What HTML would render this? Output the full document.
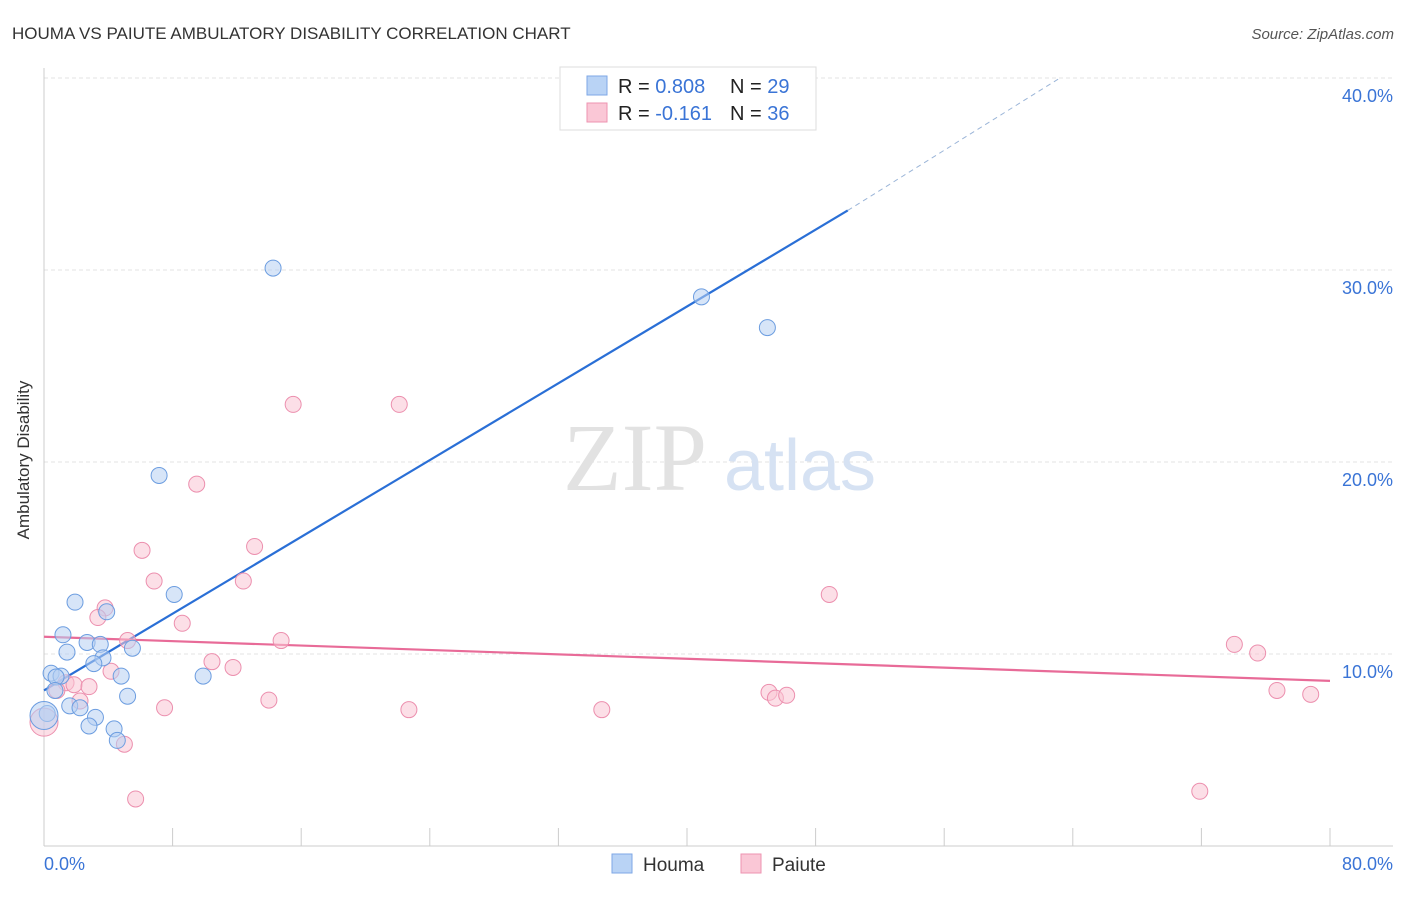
<!DOCTYPE html>
<html><head><meta charset="utf-8"><style>
body{margin:0;background:#fff;font-family:"Liberation Sans",sans-serif}
svg text{font-family:"Liberation Sans",sans-serif}
</style></head><body>
<svg id="chart" width="1406" height="892" xmlns="http://www.w3.org/2000/svg">
<text x="12" y="39" font-size="17" fill="#333">HOUMA VS PAIUTE AMBULATORY DISABILITY CORRELATION CHART</text>
<text x="1394" y="39" font-size="15" fill="#555" font-style="italic" text-anchor="end">Source: ZipAtlas.com</text>
<g id="grid"></g>
<g><text x="635" y="490" font-size="96" fill="#e2e2e2" font-family="Liberation Serif" text-anchor="middle" style="font-family:'Liberation Serif',serif">ZIP</text><text x="800" y="490" font-size="72" fill="#d6e2f3" text-anchor="middle">atlas</text></g>
<g id="lines"></g>
<g id="points"></g>
<text x="24" y="455" font-size="17" fill="#333" transform="rotate(-90 29 455)" text-anchor="middle">Ambulatory Disability</text>
<text x="44" y="870" font-size="18" fill="#3a74d6">0.0%</text>
<text x="1393" y="870" font-size="18" fill="#3a74d6" text-anchor="end">80.0%</text>
<g>
<rect x="560" y="67" width="256" height="63" fill="#fff" stroke="#ddd"/>
<rect x="587" y="76" width="20" height="19" fill="#b9d3f5" stroke="#7ea7e6"/>
<rect x="587" y="103" width="20" height="19" fill="#fac7d6" stroke="#ee93b0"/>
<text x="618" y="93" font-size="20" fill="#222">R = <tspan fill="#3a74d6">0.808</tspan><tspan x="730">N = </tspan><tspan fill="#3a74d6">29</tspan></text>
<text x="618" y="120" font-size="20" fill="#222">R = <tspan fill="#3a74d6">-0.161</tspan><tspan x="730">N = </tspan><tspan fill="#3a74d6">36</tspan></text>
</g>
<g>
<rect x="612" y="854" width="20" height="19" fill="#b9d3f5" stroke="#7ea7e6"/>
<text x="643" y="871" font-size="19" fill="#333">Houma</text>
<rect x="741" y="854" width="20" height="19" fill="#fac7d6" stroke="#ee93b0"/>
<text x="772" y="871" font-size="19" fill="#333">Paiute</text>
</g>
</svg>
<script>
const yTicks=[10,20,30,40];
const yTickLabels=["10.0%","20.0%","30.0%","40.0%"];
const xTicks=[0,8,16,24,32,40,48,56,64,72,80];
const houmaX=[14.25,40.9,45.0,7.16,8.1,1.93,3.9,1.18,2.68,3.5,5.5,1.43,3.67,3.1,0.44,1.06,0.75,4.8,9.9,0.68,5.2,1.6,2.24,3.2,0.2,2.8,4.36,4.56,0];
const houmaY=[30.1,28.6,27.0,19.3,13.1,12.7,12.2,11.0,10.6,10.5,10.3,10.1,9.8,9.5,9.0,8.85,8.8,8.85,8.85,8.1,7.8,7.3,7.2,6.7,6.9,6.25,6.1,5.5,6.8];
const paiuteX=[15.5,22.1,9.5,6.1,13.1,6.85,12.4,48.85,3.8,3.35,8.6,5.2,14.75,74.05,75.5,10.45,11.76,4.17,1.37,1.87,2.8,0.8,2.24,45.1,45.5,46.2,76.7,78.8,13.99,7.5,22.7,34.7,5.0,5.7,71.9,0];
const paiuteY=[23.0,23.0,18.85,15.4,15.6,13.8,13.8,13.1,12.4,11.9,11.6,10.7,10.7,10.5,10.05,9.6,9.3,9.1,8.5,8.4,8.3,8.1,7.55,8.0,7.7,7.85,8.1,7.9,7.6,7.2,7.1,7.1,5.3,2.45,2.85,6.45];
const houmaTrend=[[0,8.1],[50,33.1]];
const houmaTrendExt=[[50,33.1],[63.2,40]];
const paiuteTrend=[[0,10.9],[80,8.6]];
const X=v=>44+v*16.075, Y=v=>846-v*19.2;
const NS="http://www.w3.org/2000/svg";
function mk(t,a,p){const e=document.createElementNS(NS,t);for(const k in a)e.setAttribute(k,a[k]);p.appendChild(e);return e;}
const grid=document.getElementById('grid');
yTicks.forEach((t,i)=>{
 const l=mk('line',{x1:44,x2:1393,y1:Y(t),y2:Y(t),stroke:'#e3e3e3','stroke-dasharray':'4,3'},grid);
 
 
 const tx=mk('text',{x:1393,y:Y(t)+24,'font-size':18,fill:'#3a74d6','text-anchor':'end'},grid);
 tx.textContent=yTickLabels[i];
 
 
});
const ax=mk('line',{x1:44,x2:44,y1:68,y2:846,stroke:'#ccc'},grid);


const bx=mk('line',{x1:44,x2:1393,y1:846,y2:846,stroke:'#ccc'},grid);


xTicks.forEach(t=>{
 const l=mk('line',{x1:X(t),x2:X(t),y1:828,y2:846,stroke:'#ccc'},grid);
 
 
});
const lines=document.getElementById('lines');
function ln(d,c,w,dash,name){const a={x1:X(d[0][0]),y1:Y(d[0][1]),x2:X(d[1][0]),y2:Y(d[1][1]),stroke:c,'stroke-width':w};if(dash)a['stroke-dasharray']=dash;const e=mk('line',a,lines);
 
 }
ln(houmaTrend,'#2a6fd6',2.2,null,'houma-trend-line');
ln(houmaTrendExt,'#9bb5d8',1,'5,4','houma-trend-extension');
ln(paiuteTrend,'#e86b98',2.2,null,'paiute-trend-line');
const pts=document.getElementById('points');
function dots(xs,ys,f,s,name){xs.forEach((x,i)=>{const r=(x===0)?14:8;const c=mk('circle',{cx:X(x),cy:Y(ys[i]),r:r,fill:f,'fill-opacity':0.55,stroke:s,'stroke-width':1},pts);
 
 });}
dots(paiuteX,paiuteY,'#f9c4d4','#ec8fae','paiute-point');
dots(houmaX,houmaY,'#b6d0f3','#6c9de0','houma-point');
</script>
</body></html>
